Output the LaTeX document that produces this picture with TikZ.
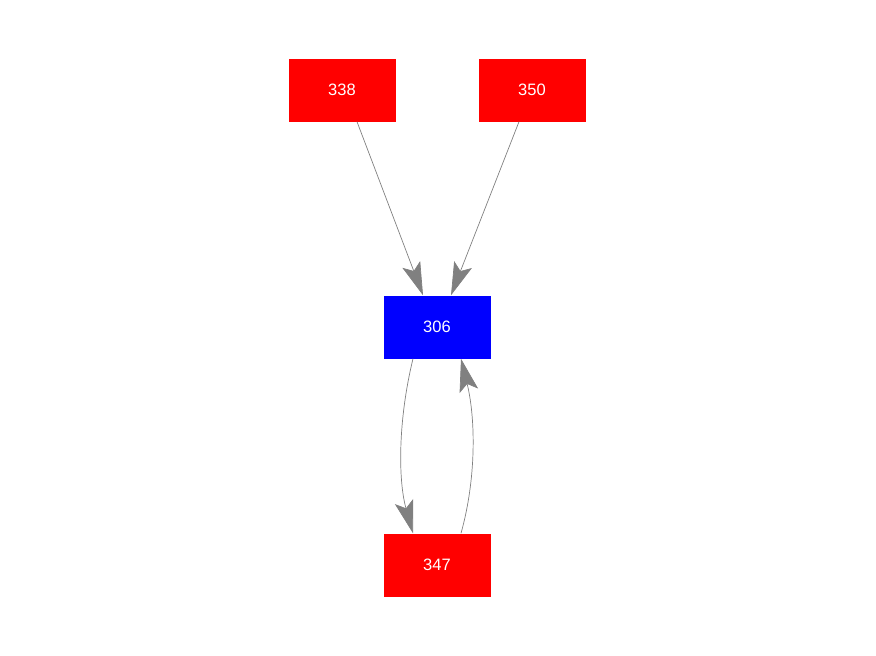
\documentclass[tikz,border=0pt]{standalone}
\usepackage{fontspec}
\setmainfont{Liberation Sans}
\usepackage{tikz}
\usetikzlibrary{arrows.meta}

\tikzset{
  boite/.style={rectangle,minimum width=107pt,minimum height=63pt,inner sep=0pt,
    text=white,font=\fontsize{16.5}{18}\selectfont},
  rouge/.style={boite,fill=red},
  bleu/.style={boite,fill=blue},
  lien/.style={draw=gray,line width=0.7pt,-{Stealth[length=33pt,width=19pt,inset=7pt]}}
}

\begin{document}
\begin{tikzpicture}[x=1pt,y=-1pt]
        \useasboundingbox (0,0) rectangle (876,656);

        % Sommets
        \node[rouge] (n338) at (342,90) {338};
        \node[rouge] (n350) at (532,90) {350};
        \node[bleu] (n306) at (437,327) {306};
        \node[rouge] (n347) at (437,565) {347};

        % Arcs
        \draw[lien] ([xshift=15pt]n338.south) -- ([xshift=-14pt]n306.north);
        \draw[lien] ([xshift=-13pt]n350.south) -- ([xshift=14pt]n306.north);
        \draw[lien] ([xshift=-24pt]n306.south) .. controls (398,420) and (398,480) .. ([xshift=-24pt]n347.north);
        \draw[lien] ([xshift=24pt]n347.north) .. controls (476,480) and (476,420) .. ([xshift=24pt]n306.south);
\end{tikzpicture}
\end{document}
